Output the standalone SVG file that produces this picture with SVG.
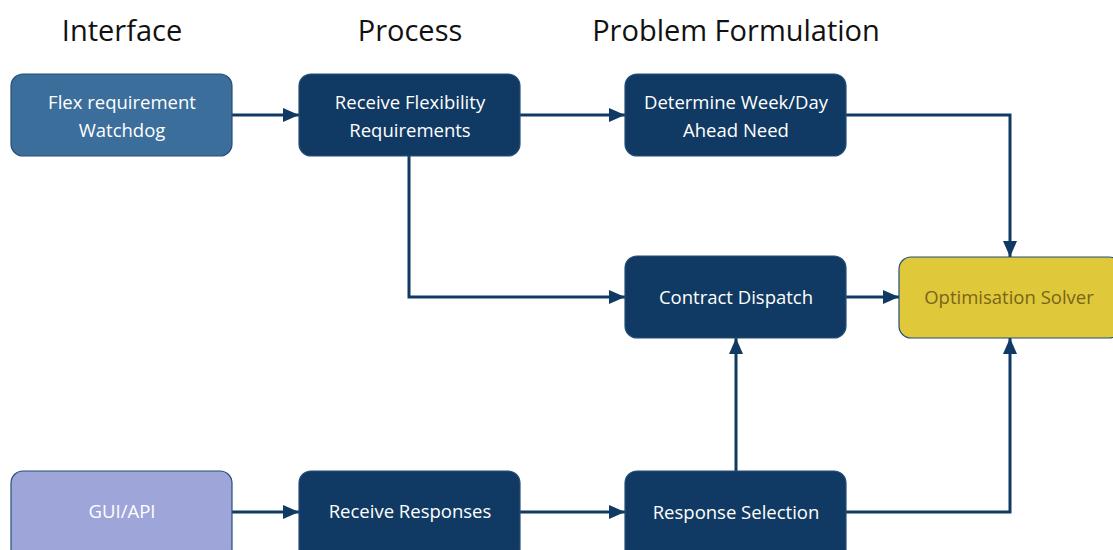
<svg xmlns="http://www.w3.org/2000/svg" width="1113" height="550" viewBox="0 0 1113 550">
<style>
.hdr{font-family:"Open Sans","Liberation Sans",sans-serif;font-size:29px;fill:#111;text-anchor:middle}
.box{stroke:#254f78;stroke-width:1.2}
.dark{fill:#103a63}
.lbl{font-family:"Open Sans","Liberation Sans",sans-serif;font-size:18.5px;fill:#fff;text-anchor:middle}
.con{fill:none;stroke:#103a63;stroke-width:3}
</style>
<defs>
<marker id="ah" viewBox="0 0 16 14" refX="16" refY="7" markerWidth="16" markerHeight="14" markerUnits="userSpaceOnUse" orient="auto">
<path d="M0,0 L16,7 L0,14 Z" fill="#103a63"/>
</marker>
</defs>
<rect width="1113" height="550" fill="#fff"/>
<text class="hdr" x="122" y="41">Interface</text>
<text class="hdr" x="410" y="41">Process</text>
<text class="hdr" x="736" y="41">Problem Formulation</text>
<g id="connectors">
<path class="con" d="M232,115 H299" marker-end="url(#ah)"/>
<path class="con" d="M520,115 H625" marker-end="url(#ah)"/>
<path class="con" d="M846,115 H1010 V257" marker-end="url(#ah)"/>
<path class="con" d="M409,156 V297 H625" marker-end="url(#ah)"/>
<path class="con" d="M846,297 H899" marker-end="url(#ah)"/>
<path class="con" d="M232,512 H299" marker-end="url(#ah)"/>
<path class="con" d="M520,512 H625" marker-end="url(#ah)"/>
<path class="con" d="M736,471 V338" marker-end="url(#ah)"/>
<path class="con" d="M846,512 H1010 V338" marker-end="url(#ah)"/>
</g>
<g id="watchdog">
<rect class="box" x="11" y="74" width="221" height="82" rx="12" fill="#3b6e9b"/>
<text class="lbl" x="122" y="109">Flex requirement</text>
<text class="lbl" x="122" y="137">Watchdog</text>
</g>
<g id="receive-flex">
<rect class="box dark" x="299" y="74" width="221" height="82" rx="12"/>
<text class="lbl" x="410" y="109">Receive Flexibility</text>
<text class="lbl" x="410" y="137">Requirements</text>
</g>
<g id="determine">
<rect class="box dark" x="625" y="74" width="221" height="82" rx="12"/>
<text class="lbl" x="736" y="109">Determine Week/Day</text>
<text class="lbl" x="736" y="137">Ahead Need</text>
</g>
<g id="contract">
<rect class="box dark" x="625" y="256" width="221" height="82" rx="12"/>
<text class="lbl" x="736" y="304">Contract Dispatch</text>
</g>
<g id="solver">
<rect class="box" x="899" y="257" width="222" height="81" rx="12" fill="#dfc93a" stroke="#3a5f86"/>
<text class="lbl" x="1009" y="304" style="fill:#7a6418">Optimisation Solver</text>
</g>
<g id="gui">
<rect class="box" x="11" y="471" width="221" height="90" rx="12" fill="#9ea5d9"/>
<text class="lbl" x="122" y="518">GUI/API</text>
</g>
<g id="receive-resp">
<rect class="box dark" x="299" y="471" width="221" height="90" rx="12"/>
<text class="lbl" x="410" y="518">Receive Responses</text>
</g>
<g id="selection">
<rect class="box dark" x="625" y="471" width="221" height="90" rx="12"/>
<text class="lbl" x="736" y="519">Response Selection</text>
</g>
</svg>
